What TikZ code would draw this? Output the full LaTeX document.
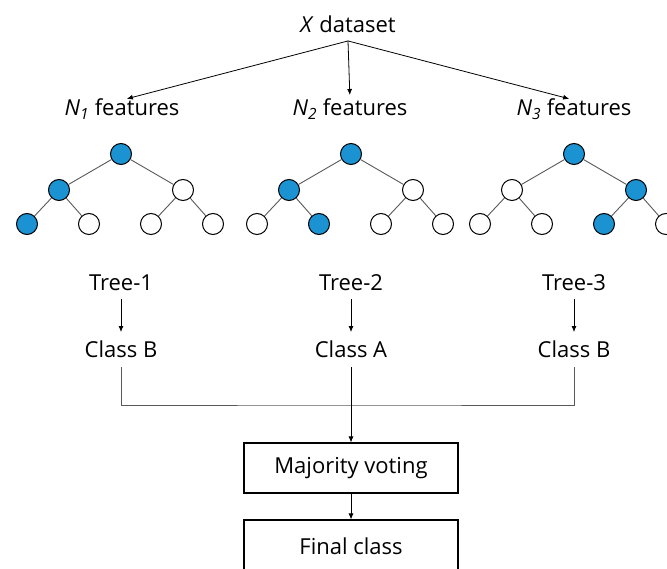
\documentclass[tikz,border=0pt]{standalone}
\usepackage{fontspec}
\setmainfont{Open Sans}
\usetikzlibrary{arrows.meta, positioning}
\definecolor{leafblue}{RGB}{27,146,210}
\tikzset{vtx/.style={circle, draw=black, line width=1pt, minimum size=21pt, inner sep=0pt, fill=white}}
\tikzset{hit/.style={vtx, fill=leafblue}}
\tikzset{edge/.style={draw=black!65, line width=0.9pt}}
\tikzset{lbl/.style={font=\fontsize{22}{26}\selectfont, inner sep=0pt, text height=15.5pt, text depth=0pt}}
\tikzset{arr/.style={-{Latex[length=6pt,width=5pt]}, line width=0.8pt}}
\tikzset{votebox/.style={draw, line width=1.1pt, minimum width=214pt, minimum height=50pt, inner sep=0pt, font=\fontsize{22}{26}\selectfont}}

\begin{document}
\begin{tikzpicture}[x=1pt, y=-1pt]
	\useasboundingbox (0,0) rectangle (667,569);
	% data and feature subsets
	\node[lbl] (data) at (348,25) {\textit{X} dataset};
	\node[lbl] (feat1) at (122,108) {\textit{N}\textsubscript{\textit{1}} features};
	\node[lbl] (feat2) at (350,108) {\textit{N}\textsubscript{\textit{2}} features};
	\node[lbl] (feat3) at (574,108) {\textit{N}\textsubscript{\textit{3}} features};
	\coordinate (fork) at ([yshift=-8pt]data.south);
	\draw[arr, shorten >=5pt] (fork) -- (feat1.north);
	\draw[arr, shorten >=5pt] (fork) -- (feat2.north);
	\draw[arr, shorten >=5pt] (fork) -- (feat3.north);
	% Tree 1
	\node[hit] (t1) at (121,154) {};
	\node[hit] (t1l) at (59,190) {};
	\node[vtx] (t1r) at (183,190) {};
	\node[hit] (t1ll) at (27,224) {};
	\node[vtx] (t1lr) at (89,224) {};
	\node[vtx] (t1rl) at (151,224) {};
	\node[vtx] (t1rr) at (213,224) {};
	\draw[edge] (t1) -- (t1l);
	\draw[edge] (t1) -- (t1r);
	\draw[edge] (t1l) -- (t1ll);
	\draw[edge] (t1l) -- (t1lr);
	\draw[edge] (t1r) -- (t1rl);
	\draw[edge] (t1r) -- (t1rr);
	% Tree 2
	\node[hit] (t2) at (351,154) {};
	\node[hit] (t2l) at (289,190) {};
	\node[vtx] (t2r) at (413,190) {};
	\node[vtx] (t2ll) at (257,224) {};
	\node[hit] (t2lr) at (319,224) {};
	\node[vtx] (t2rl) at (381,224) {};
	\node[vtx] (t2rr) at (443,224) {};
	\draw[edge] (t2) -- (t2l);
	\draw[edge] (t2) -- (t2r);
	\draw[edge] (t2l) -- (t2ll);
	\draw[edge] (t2l) -- (t2lr);
	\draw[edge] (t2r) -- (t2rl);
	\draw[edge] (t2r) -- (t2rr);
	% Tree 3
	\node[hit] (t3) at (574,154) {};
	\node[vtx] (t3l) at (512,190) {};
	\node[hit] (t3r) at (636,190) {};
	\node[vtx] (t3ll) at (480,224) {};
	\node[vtx] (t3lr) at (542,224) {};
	\node[hit] (t3rl) at (604,224) {};
	\node[vtx] (t3rr) at (666,224) {};
	\draw[edge] (t3) -- (t3l);
	\draw[edge] (t3) -- (t3r);
	\draw[edge] (t3l) -- (t3ll);
	\draw[edge] (t3l) -- (t3lr);
	\draw[edge] (t3r) -- (t3rl);
	\draw[edge] (t3r) -- (t3rr);
	% tree outputs
	\node[lbl] (tree1) at (121,283) {Tree-1};
	\node[lbl] (tree2) at (351,283) {Tree-2};
	\node[lbl] (tree3) at (574,283) {Tree-3};
	\node[lbl] (cls1) at (121,350) {Class B};
	\node[lbl] (cls2) at (351,350) {Class A};
	\node[lbl] (cls3) at (574,350) {Class B};
	\draw[arr, shorten <=8pt, shorten >=10pt] (tree1) -- (cls1);
	\draw[arr, shorten <=8pt, shorten >=10pt] (tree2) -- (cls2);
	\draw[arr, shorten <=8pt, shorten >=10pt] (tree3) -- (cls3);
	% voting
	\node[votebox] (vote) at (351,468) {Majority voting};
	\node[votebox, minimum height=52pt] (final) at (351,546) {Final class};
	\coordinate (join) at (351,405);
	\draw[edge] ([yshift=-9pt]cls1.south) |- (join) -| ([yshift=-9pt]cls3.south);
	\draw[arr] ([yshift=-9pt]cls2.south) -- (vote.north);
	\draw[arr] (vote) -- (final);
\end{tikzpicture}
\end{document}
